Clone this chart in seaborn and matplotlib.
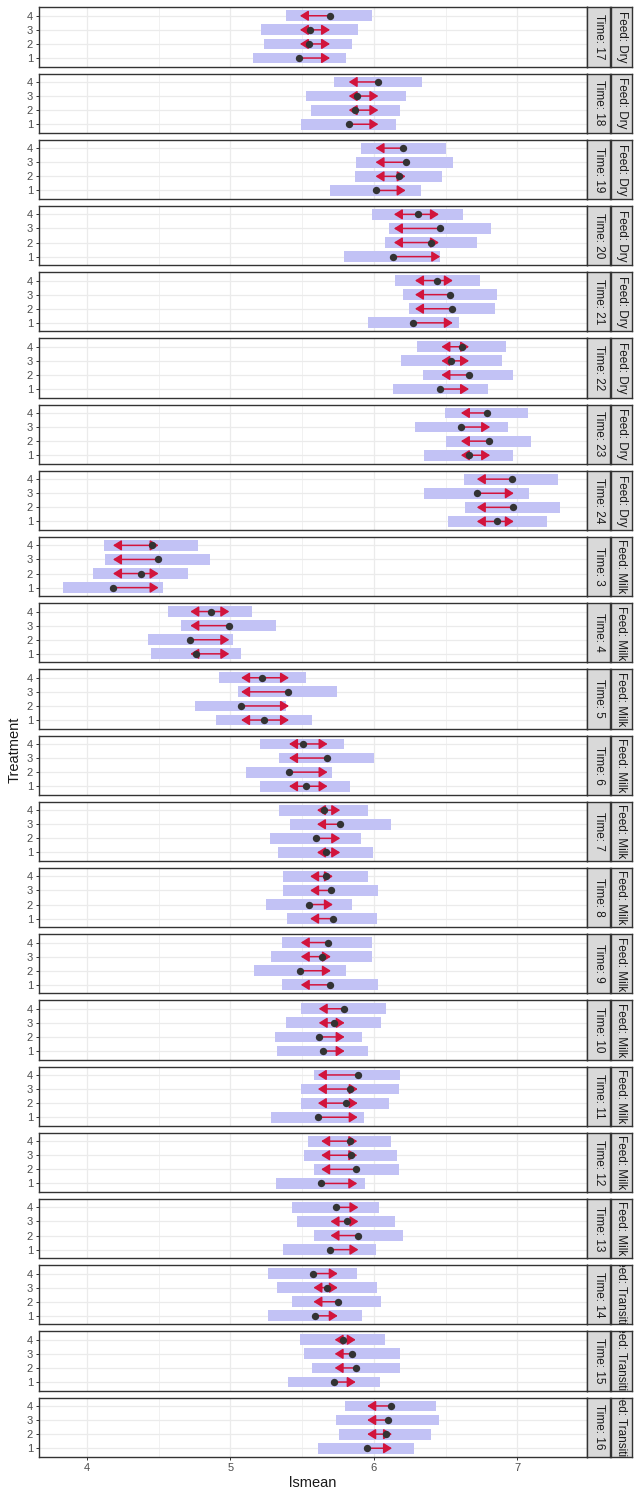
import matplotlib as mpl
mpl.use("Agg")
import matplotlib.pyplot as plt
import numpy as np
import pandas as pd
import seaborn as sns

nan = np.nan

# facet rows, top to bottom
times = [17, 18, 19, 20, 21, 22, 23, 24, 3, 4, 5, 6, 7, 8, 9, 10, 11, 12, 13, 14, 15, 16]
feeds = ["Dry"] * 8 + ["Milk"] * 11 + ["Transition"] * 3
treatments = [1, 2, 3, 4]

# per panel: values for treatment 1, 2, 3, 4
lsmean = [
    [5.479, 5.550, 5.555, 5.694], [5.824, 5.870, 5.881, 6.031],
    [6.011, 6.173, 6.221, 6.201], [6.130, 6.399, 6.462, 6.309],
    [6.275, 6.544, 6.530, 6.442], [6.462, 6.663, 6.538, 6.615],
    [6.663, 6.805, 6.606, 6.788], [6.861, 6.969, 6.720, 6.960],
    [4.181, 4.377, 4.493, 4.453], [4.762, 4.720, 4.989, 4.861],
    [5.235, 5.076, 5.402, 5.221], [5.527, 5.408, 5.671, 5.504],
    [5.666, 5.595, 5.765, 5.652], [5.714, 5.547, 5.700, 5.666],
    [5.694, 5.484, 5.640, 5.677], [5.643, 5.615, 5.720, 5.790],
    [5.609, 5.802, 5.830, 5.887], [5.632, 5.878, 5.839, 5.830],
    [5.691, 5.892, 5.810, 5.734], [5.592, 5.748, 5.671, 5.575],
    [5.723, 5.876, 5.848, 5.785], [5.953, 6.083, 6.098, 6.118],
]
lower_cl = [
    [5.156, 5.232, 5.212, 5.388], [5.490, 5.561, 5.524, 5.720],
    [5.691, 5.870, 5.878, 5.907], [5.793, 6.079, 6.108, 5.989],
    [5.960, 6.244, 6.204, 6.147], [6.133, 6.343, 6.190, 6.300],
    [6.348, 6.501, 6.286, 6.493], [6.516, 6.632, 6.348, 6.626],
    [3.833, 4.042, 4.125, 4.116], [4.448, 4.422, 4.657, 4.567],
    [4.901, 4.754, 5.054, 4.918], [5.204, 5.108, 5.337, 5.204],
    [5.329, 5.275, 5.414, 5.337], [5.391, 5.246, 5.365, 5.365],
    [5.357, 5.164, 5.280, 5.357], [5.323, 5.309, 5.385, 5.490],
    [5.280, 5.490, 5.490, 5.581], [5.317, 5.581, 5.510, 5.538],
    [5.365, 5.581, 5.467, 5.428], [5.261, 5.428, 5.323, 5.261],
    [5.402, 5.567, 5.513, 5.487], [5.609, 5.754, 5.734, 5.797],
]
upper_cl = [
    [5.802, 5.850, 5.890, 5.989], [6.153, 6.181, 6.224, 6.334],
    [6.326, 6.473, 6.550, 6.504], [6.459, 6.717, 6.813, 6.618],
    [6.592, 6.841, 6.858, 6.737], [6.793, 6.972, 6.890, 6.918],
    [6.972, 7.096, 6.932, 7.076], [7.207, 7.297, 7.082, 7.280],
    [4.530, 4.705, 4.858, 4.776], [5.074, 5.017, 5.317, 5.150],
    [5.567, 5.385, 5.745, 5.527], [5.833, 5.705, 6.003, 5.793],
    [5.994, 5.912, 6.116, 5.960], [6.023, 5.850, 6.031, 5.960],
    [6.031, 5.807, 5.989, 5.989], [5.960, 5.918, 6.051, 6.082],
    [5.932, 6.105, 6.176, 6.181], [5.941, 6.176, 6.161, 6.119],
    [6.017, 6.204, 6.147, 6.037], [5.918, 6.051, 6.023, 5.884],
    [6.041, 6.183, 6.183, 6.078], [6.282, 6.398, 6.450, 6.433],
]
# comparison arrow tips (nan = no arrow)
arrow_left = [
    [nan, 5.484, 5.484, 5.484], [nan, 5.824, 5.824, 5.824],
    [nan, 6.011, 6.011, 6.011], [nan, 6.139, 6.139, 6.139],
    [nan, 6.286, 6.286, 6.286], [nan, 6.470, 6.470, 6.470],
    [6.606, 6.606, nan, 6.606], [6.717, 6.717, nan, 6.717],
    [nan, 4.181, 4.181, 4.181], [4.720, nan, 4.720, 4.720],
    [5.074, nan, 5.074, 5.074], [5.408, nan, 5.408, 5.408],
    [5.603, nan, 5.603, 5.603], [5.555, nan, 5.555, 5.555],
    [5.490, nan, 5.490, 5.490], [nan, nan, 5.615, 5.615],
    [nan, 5.609, 5.609, 5.609], [nan, 5.632, 5.632, 5.632],
    [nan, 5.697, 5.697, nan], [nan, 5.578, 5.578, nan],
    [nan, 5.726, 5.726, 5.726], [nan, 5.953, 5.953, 5.953],
]
arrow_right = [
    [5.694, 5.694, 5.694, nan], [6.031, 6.031, 6.031, nan],
    [6.221, 6.221, nan, nan], [6.462, 6.453, nan, 6.453],
    [6.550, nan, nan, 6.550], [6.663, nan, 6.663, 6.663],
    [6.810, nan, 6.810, nan], [6.975, nan, 6.975, nan],
    [4.499, 4.499, nan, 4.499], [4.992, 4.992, nan, 4.992],
    [5.408, 5.408, nan, 5.408], [5.677, 5.677, nan, 5.677],
    [5.765, 5.765, nan, 5.765], [nan, 5.714, nan, 5.714],
    [nan, 5.700, 5.700, nan], [5.796, 5.796, 5.796, nan],
    [5.887, 5.887, 5.887, nan], [5.884, nan, 5.884, 5.884],
    [5.892, nan, 5.892, 5.892], [5.748, nan, 5.748, 5.748],
    [5.873, nan, nan, 5.873], [6.126, 6.126, nan, nan],
]
x_ticks = [4, 5, 6, 7]

rows = []
for i, (t, f) in enumerate(zip(times, feeds)):
    for j, trt in enumerate(treatments):
        rows.append(dict(panel=i, Time=t, Feed=f, Treatment=trt,
                         lsmean=lsmean[i][j], lower=lower_cl[i][j], upper=upper_cl[i][j],
                         left=arrow_left[i][j], right=arrow_right[i][j]))
df = pd.DataFrame(rows)

sns.set_theme(style="white")
plt.rcParams["font.family"] = ["Liberation Sans", "DejaVu Sans"]

W, H = 641, 1500
fig = plt.figure(figsize=(W / 100, H / 100), dpi=100)

left_px, right_px = 38.5, 587
strip1 = (587, 610)
strip2 = (611, 632)
top0, ph, pitch = 7.3, 59.2, 66.2
xlim = (3.662, 7.485)

bar_col = "#C2C2F5"
arrow_col = "#D2143C"
point_col = "#333333"
grid_col = "#EBEBEB"
edge_col = "#333333"

def fig_rect(x0, x1, top, h):
    return [x0 / W, 1 - (top + h) / H, (x1 - x0) / W, h / H]

n = len(times)
for i in range(n):
    top = top0 + i * pitch
    ax = fig.add_axes(fig_rect(left_px, right_px, top, ph))
    sub = df[df.panel == i]
    ax.set_xlim(*xlim)
    ax.set_ylim(0.4, 4.6)
    ax.set_xticks(x_ticks)
    ax.set_xticks([4.5, 5.5, 6.5], minor=True)
    ax.set_yticks(treatments)
    ax.grid(True, which="major", color=grid_col, lw=0.9)
    ax.grid(True, which="minor", axis="x", color=grid_col, lw=0.5)
    ax.set_axisbelow(True)

    ax.barh(sub.Treatment, sub.upper - sub.lower, left=sub.lower, height=0.76,
            color=bar_col, lw=0, zorder=2)
    for _, r in sub.iterrows():
        for tip in (r.left, r.right):
            if not np.isnan(tip):
                ax.annotate("", xy=(tip, r.Treatment), xytext=(r.lsmean, r.Treatment),
                            arrowprops=dict(arrowstyle="-|>,head_length=0.45,head_width=0.28",
                                            color=arrow_col, lw=1.1, shrinkA=0, shrinkB=0,
                                            mutation_scale=11),
                            zorder=3)
    sns.scatterplot(data=sub, x="lsmean", y="Treatment", ax=ax, color=point_col,
                    s=28, edgecolor=point_col, linewidth=0, zorder=4, legend=False)

    ax.set_xlabel("")
    ax.set_ylabel("")
    ax.tick_params(axis="y", length=2.5, width=0.7, color=edge_col, labelsize=8,
                   labelcolor="#4D4D4D", pad=1.5, left=True)
    if i == n - 1:
        ax.tick_params(axis="x", length=2.5, width=0.7, color=edge_col, labelsize=8,
                       labelcolor="#4D4D4D", pad=2, bottom=True)
        ax.set_xlabel("lsmean", fontsize=10.5, color="#1A1A1A", labelpad=2)
    else:
        ax.tick_params(axis="x", labelbottom=False, bottom=False)
    for s in ax.spines.values():
        s.set_color(edge_col)
        s.set_linewidth(1.0)

    for (x0, x1), label in ((strip1, f"Time: {times[i]}"), (strip2, f"Feed: {feeds[i]}")):
        sax = fig.add_axes(fig_rect(x0, x1, top, ph))
        sax.set_facecolor("#D9D9D9")
        sax.set_xticks([])
        sax.set_yticks([])
        for s in sax.spines.values():
            s.set_color(edge_col)
            s.set_linewidth(1.0)
        txt = sax.text(0.5, 0.5, label, rotation=270, ha="center", va="center",
                       fontsize=8.5, color="#1A1A1A", transform=sax.transAxes)
        # long strip labels are cut at the strip edge, as in the original
        txt.set_clip_on(True)

fig.text(15 / W, 0.5, "Treatment", rotation=90, ha="center", va="center",
         fontsize=10.5, color="#1A1A1A")

fig.savefig("out.png", dpi=100)
